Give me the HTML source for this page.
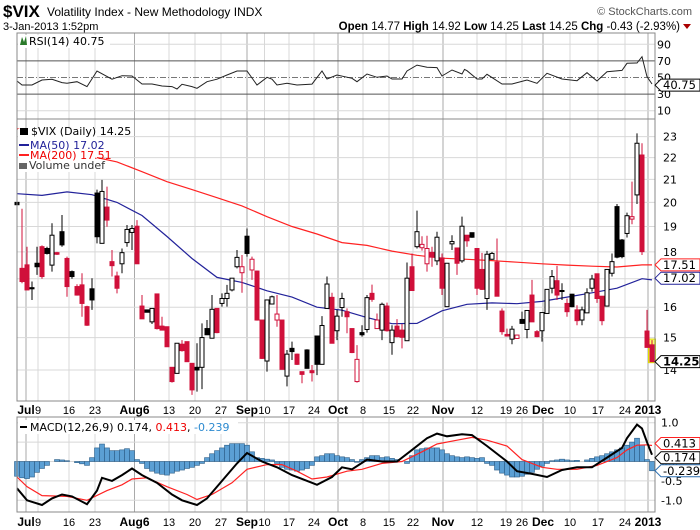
<!DOCTYPE html>
<html><head><meta charset="utf-8"><style>
body{margin:0;background:#fff;}
svg{display:block;font-family:"DejaVu Sans","Liberation Sans",sans-serif;}
</style></head><body>
<svg id="c" width="700" height="530" viewBox="0 0 700 530" xmlns="http://www.w3.org/2000/svg">
<text x="3" y="17" font-family="Liberation Sans, sans-serif" font-size="17" font-weight="bold">$VIX</text>
<text x="47" y="16" font-family="Liberation Sans, sans-serif" font-size="12">Volatility Index - New Methodology  INDX</text>
<text x="692" y="15" text-anchor="end" font-family="Liberation Sans, sans-serif" font-size="11" fill="#555">© StockCharts.com</text>
<text x="3" y="30" font-family="Liberation Sans, sans-serif" font-size="11">3-Jan-2013 1:52pm</text>
<text x="680" y="30" text-anchor="end" font-family="Liberation Sans, sans-serif" font-size="11.5"><tspan font-weight="bold">Open</tspan> 14.77 <tspan font-weight="bold">High</tspan> 14.92 <tspan font-weight="bold">Low</tspan> 14.25 <tspan font-weight="bold">Last</tspan> 14.25 <tspan font-weight="bold">Chg</tspan> -0.43 (-2.93%)</text>
<path d="M683,24 L691,24 L687,29 Z" fill="#a00"/>
<g id="g"></g>
</svg>
<script>
// ---- data ----
const opens=[20.0,17.38,17.51,16.68,17.57,18.20,18.13,17.50,17.97,18.79,17.75,17.26,16.72,16.78,16.02,16.64,20.40,18.33,19.80,17.63,17.10,17.55,18.36,18.76,19.01,16.04,15.91,15.51,16.46,15.37,15.35,14.08,13.90,14.79,14.87,14.20,14.08,14.08,15.29,14.98,15.96,16.13,16.30,16.60,17.44,17.22,18.61,17.32,17.28,15.57,14.27,16.11,15.57,15.57,13.82,14.66,14.48,13.95,14.61,13.98,15.05,14.17,15.96,16.34,15.22,15.99,15.85,15.29,13.66,15.16,15.26,16.48,15.29,15.24,16.04,14.84,15.37,15.24,14.90,17.44,18.20,18.16,17.55,17.98,17.66,17.77,16.02,18.31,18.15,17.66,18.65,18.75,18.13,17.34,16.30,17.72,17.61,15.87,15.10,14.95,14.97,15.59,15.26,16.42,15.19,15.22,15.79,16.66,16.93,16.58,16.13,16.45,15.91,15.57,15.81,16.66,17.18,16.38,16.04,17.20,19.82,18.46,18.72,19.30,20.32,22.12,15.21,14.77];
const highs=[20.32,19.73,18.20,16.90,18.20,18.25,18.20,19.13,18.0,19.47,17.82,17.30,16.80,17.20,16.05,17.02,20.55,20.98,20.68,18.07,17.26,18.13,19.06,19.06,19.26,16.42,15.92,15.96,16.46,15.68,15.35,14.08,14.82,14.92,14.87,14.20,14.82,15.46,15.57,16.42,15.96,16.48,16.78,17.02,18.07,17.88,18.92,17.82,17.30,15.57,16.25,16.40,16.42,15.57,14.61,14.87,14.50,13.95,14.63,14.15,15.05,15.70,17.08,16.50,15.91,16.50,15.96,15.29,14.76,15.40,16.42,16.79,15.79,16.16,16.16,15.40,15.60,15.44,17.60,17.94,19.65,18.61,18.63,18.20,18.79,17.94,17.57,18.65,18.15,19.40,18.65,18.76,18.13,17.96,18.04,18.0,18.52,15.96,15.29,15.38,15.09,15.85,15.89,16.96,15.24,15.82,16.62,17.32,17.47,16.84,16.30,16.46,16.07,16.02,16.66,17.14,17.18,16.38,17.34,17.94,19.93,18.50,19.57,20.90,23.16,22.68,15.91,14.92];
const lows=[19.76,16.84,16.60,16.25,17.14,17.0,17.9,17.26,17.88,18.2,16.36,17.0,16.4,15.68,15.38,15.91,18.33,18.33,18.99,17.08,16.48,17.20,18.20,18.07,17.55,15.61,15.82,15.44,15.26,15.24,14.71,13.63,13.90,14.56,14.25,13.28,13.37,13.44,15.09,14.98,15.14,16.02,16.02,16.55,17.38,16.50,17.82,16.96,15.55,14.33,13.95,16.10,15.35,14.02,13.52,14.30,14.15,13.61,14.04,13.66,13.85,14.17,15.96,14.82,14.92,15.68,15.14,14.51,13.63,15.03,15.16,16.19,15.29,14.92,15.19,14.46,15.01,14.66,14.90,16.58,18.13,18.05,17.26,17.44,17.50,16.42,16.02,18.07,17.14,17.59,18.20,18.55,16.42,16.60,15.91,17.70,16.38,15.09,15.03,14.79,14.96,15.44,14.98,15.51,15.01,14.87,15.79,16.48,16.25,16.25,15.68,16.0,15.40,15.40,15.81,16.54,16.15,15.40,16.04,17.08,17.76,17.76,18.56,19.09,19.93,17.88,14.69,14.25];
const closes=[19.90,16.90,16.60,16.64,17.44,17.08,17.94,18.65,17.91,18.27,16.72,17.08,16.42,16.13,15.40,16.25,18.59,20.47,19.26,17.48,16.66,17.97,18.88,18.92,17.55,15.61,15.83,15.96,15.29,15.24,14.71,13.66,14.82,14.59,14.25,13.42,14.00,15.00,15.09,15.93,15.16,16.30,16.48,17.02,17.79,17.44,17.94,17.72,15.57,14.35,16.25,16.36,15.77,14.02,14.48,14.56,14.17,13.87,14.05,13.92,14.17,15.39,16.81,14.82,15.70,16.30,15.68,14.53,14.32,15.09,16.33,16.27,15.57,16.10,15.22,15.24,15.03,15.01,17.02,16.58,18.79,18.29,18.13,17.80,18.57,16.66,17.57,18.40,17.57,19.01,18.43,18.57,16.66,16.62,17.91,17.94,16.38,15.19,15.05,15.27,15.08,15.46,15.89,15.51,15.03,15.82,16.62,17.08,16.42,16.55,15.85,16.02,15.55,15.91,16.50,16.99,16.30,15.55,17.34,17.63,17.80,17.82,19.44,19.40,22.68,18.01,14.69,14.25];
const maDays=[0,5,10,15,20,25,30,35,40,45,50,55,60,65,70,75,80,85,90,95,100,105,110,115,120,125,127];
const ma50=[20.37,20.30,20.45,20.33,20.0,19.45,18.6,17.75,17.05,16.87,16.57,16.35,16.0,15.9,15.65,15.45,15.46,15.88,16.1,16.15,16.12,16.2,16.35,16.5,16.66,17.0,16.96];
const ma200=[23.4,22.95,22.5,22.05,21.8,21.35,20.9,20.55,20.2,19.85,19.4,19.0,18.7,18.36,18.25,18.03,17.87,17.76,17.72,17.67,17.61,17.55,17.50,17.46,17.43,17.51,17.51];
const priceTicks=[14,15,16,17,18,19,20,21,22,23];
const rsiDays=[0,1,3,5,7,9,10,12,14,16,19,21,23,25,27,29,31,32,33,35,36,38,40,42,44,46,48,50,51,52,54,56,59,61,62,64,67,68,70,72,74,75,77,78,80,82,84,85,87,89,89.5,90,92,93,94,97,99,102,104,106,109,112,114,116,118,121,122,124,125,126,127];
const rsiVals=[45.8,41,41,47,47.8,43.8,43,45,39,57.8,47.9,52.2,51.8,42.2,42.2,39.8,39,36.1,41.8,39,37,45,47.9,53,57.8,57.8,41,50.2,47.9,41,43,41,42,57.8,48.2,53,49,45,54.2,50.2,51.8,48.2,48.2,57.8,65,62.3,61.9,51.8,59,54.2,59.8,58.2,48.2,48.2,53.8,42.2,42.2,47,43,55,48.2,46.2,55.8,45.8,57,58.5,67.1,67.5,75.1,51,42.2,40.75];
const rsiTicks=[90,70,50,30,10];
const macdDays=[0,2,5,7,9,11,14,16,17,19,21,23,25,28,31,33,36,38,41,44,46,49,52,55,59,60,63,65,67,70,73,76,79,82,84,86,89,91,94,98,100,103,106,109,112,115,118,121,122,124,125,126,127];
const macdVals=[-0.69,-1.0,-1.12,-0.95,-0.85,-0.9,-1.1,-0.75,-0.42,-0.5,-0.35,-0.18,-0.35,-0.55,-0.85,-1.0,-1.12,-0.95,-0.5,-0.05,0.22,0.0,-0.15,-0.35,-0.55,-0.6,-0.4,-0.15,-0.2,0.05,0.0,0.0,0.3,0.6,0.72,0.65,0.7,0.68,0.4,0.0,-0.25,-0.32,-0.4,-0.22,-0.15,-0.15,0.1,0.35,0.6,0.95,0.85,0.5,0.174];
const sigDays=[0,2,5,10,14,18,21,23,26,30,34,36,39,43,46,50,53,56,59,62,66,69,73,77,81,84,88,91,94,98,101,105,108,112,116,120,122,124,126,127];
const sigVals=[-0.4,-0.65,-0.88,-0.9,-1.0,-0.75,-0.6,-0.45,-0.42,-0.65,-0.85,-0.98,-0.85,-0.55,-0.2,-0.08,-0.08,-0.25,-0.45,-0.4,-0.25,-0.2,-0.05,0.0,0.25,0.45,0.55,0.62,0.55,0.4,0.05,-0.15,-0.2,-0.2,-0.1,0.1,0.3,0.42,0.43,0.413];
const histVals=[-0.38,-0.42,-0.44,-0.40,-0.28,-0.18,-0.1,0.0,0.05,0.04,0.02,0.0,-0.03,-0.06,-0.1,0.1,0.35,0.45,0.35,0.28,0.28,0.3,0.33,0.28,0.05,-0.05,-0.18,-0.25,-0.3,-0.33,-0.35,-0.3,-0.25,-0.22,-0.18,-0.15,-0.1,-0.05,0.1,0.2,0.28,0.35,0.42,0.46,0.46,0.46,0.42,0.25,0.1,0.08,0.06,0.04,-0.05,-0.15,-0.2,-0.22,-0.25,-0.22,-0.18,-0.1,0.12,0.15,0.2,0.2,0.15,0.12,0.1,0.05,-0.02,0.05,0.1,0.15,0.15,0.1,0.12,0.08,0.05,0.0,-0.05,0.15,0.3,0.33,0.35,0.35,0.35,0.3,0.2,0.15,0.12,0.1,0.12,0.1,0.08,0.1,-0.05,-0.1,-0.22,-0.3,-0.35,-0.4,-0.4,-0.38,-0.33,-0.28,-0.2,-0.12,-0.05,0.02,0.04,0.06,0.04,0.02,0.03,0.0,0.04,0.08,0.12,0.15,0.2,0.25,0.3,0.35,0.42,0.5,0.6,0.42,0.05,-0.239];
const macdTicks=[1.0,0.5,0.0,-0.5,-1.0];
const macdTickLabels=["1.0","0.5","0.0","-0.5","-1.0"];
const dateLabels=["Jul","9","16","23","Aug6","13","20","27","Sep","10","17","24","Oct","8","15","22","Nov","12","19","26","Dec","10","17","24","2013"];
const dateIdx=[1.8,4.2,10.4,15.6,23.5,30.4,35.6,40.8,46,49.5,54.4,59.4,64.2,69.2,74.4,79.2,85.2,92,97.8,101,105.2,110.6,116.2,121.6,126.2];
const monthLabels=["Jul","Aug6","Sep","Oct","Nov","Dec","2013"];

// ---- axes ----
const L=17,R=655;
const X=i=>L+5*i;
const PY=v=>370-470*Math.log(v/14);
const RY=v=>119-0.83*v;
const MY=v=>461.5-38.8*v;
const NS="http://www.w3.org/2000/svg";
const G=document.getElementById('g');
function mk(tag,attrs,parent){const e=document.createElementNS(NS,tag);for(const k in attrs)e.setAttribute(k,attrs[k]);(parent||G).appendChild(e);return e;}
function txt(x,y,s,attrs){const e=mk('text',Object.assign({x:x,y:y,'font-size':11},attrs||{}));e.textContent=s;return e;}

const panels=[[33,119],[119,401],[417,512]];
panels.forEach((p,k)=>{
  const r=mk('rect',{x:L,y:p[0],width:R-L,height:p[1]-p[0],fill:'#fff',stroke:'none'});
  
  
});
[33,119,417].forEach((t,k)=>{
  const b=[119,401,512][k];
  dateIdx.forEach((d,j)=>{
    const isM=monthLabels.includes(dateLabels[j]);
    const l=mk('line',{x1:X(d),x2:X(d),y1:t,y2:b,stroke:isM?'#aaa':'#d8d8d8','stroke-width':1});
    
    
  });
});
rsiTicks.forEach(v=>{
  const y=RY(v);
  const st=(v===70||v===30)?{stroke:'#555'}:(v===50?{stroke:'#777','stroke-dasharray':'6,2,1,2'}:{stroke:'#d8d8d8'});
  const l=mk('line',Object.assign({x1:L,x2:R,y1:y,y2:y},st));
  
  
  const t=txt(657,y+4,String(v),{'font-size':11});
  
  
});
priceTicks.forEach(v=>{
  const y=PY(v);
  const l=mk('line',{x1:L,x2:R,y1:y,y2:y,stroke:'#d8d8d8'});
  
  
  const t=txt(663,y+4,String(v),{'font-size':11});
  
  
});
macdTicks.forEach((v,j)=>{
  const y=MY(v);
  const l=mk('line',{x1:L,x2:R,y1:y,y2:y,stroke:'#d8d8d8'});
  
  
  const t=txt(661,y+4,macdTickLabels[j],{'font-size':11});
  
  
});
[414,526].forEach(yy=>{
  dateIdx.forEach((d,j)=>{
    const isM=monthLabels.includes(dateLabels[j]);
    const t=txt(X(d),yy,dateLabels[j],{'text-anchor':'middle','font-size':isM?12:11,'font-weight':isM?'bold':'normal','font-family':'Liberation Sans, sans-serif'});
    
    
  });
});

let d='';rsiDays.forEach((k,j)=>{d+=(j?'L':'M')+X(k).toFixed(1)+','+RY(rsiVals[j]).toFixed(1);});
let p=mk('path',{d:d,fill:'none',stroke:'#222','stroke-width':1});



function lineOf(days,vals,fy,col,w,name){let s='';days.forEach((k,j)=>{s+=(j?'L':'M')+X(k).toFixed(1)+','+fy(vals[j]).toFixed(1);});const e=mk('path',{d:s,fill:'none',stroke:col,'stroke-width':w});return e;}
lineOf(maDays,ma200,PY,'#f22',1.2,'ma200-line');
lineOf(maDays,ma50,PY,'#22229a',1.2,'ma50-line');

const hl=mk('rect',{x:X(127)-3.5,y:PY(highs[127])-1,width:7,height:PY(lows[127])-PY(highs[127])+2,fill:'#ffff66',stroke:'#dd0'});



closes.forEach((c,i)=>{
  const o=opens[i],h=highs[i],l=lows[i];
  const prev=i?closes[i-1]:c;
  const col=c<prev?'#d0103a':'#000';
  const x=X(i);
  const w=mk('line',{x1:x,x2:x,y1:PY(h),y2:PY(l),stroke:col,'stroke-width':1});
  
  
  const top=PY(Math.max(o,c)),bot=PY(Math.min(o,c));
  const filled=c<o;
  const b=mk('rect',{x:x-2,y:top,width:4,height:Math.max(1,bot-top),fill:filled?col:'#fff',stroke:col,'stroke-width':1});
  
  
});

histVals.forEach((v,i)=>{
  const y0=MY(0),y1=MY(v);
  const r=mk('rect',{x:X(i)-2.5,y:Math.min(y0,y1),width:5,height:Math.abs(y1-y0),fill:'#5b9fd4',stroke:'#2c5d86','stroke-width':0.6});
  
  
});
lineOf(sigDays,sigVals,MY,'#f22',1.2,'macd-signal-line');
lineOf(macdDays,macdVals,MY,'#000',2,'macd-line');

panels.forEach(p2=>{const r=mk('rect',{x:L,y:p2[0],width:R-L,height:p2[1]-p2[0],fill:'none',stroke:'#888'});});

function tag(y,s,col,bold,name){
  const g=mk('g',{});
  
  
  const w=s.length*6.6+6;
  mk('path',{d:`M655,${y} L661,${y-6} L${661+w},${y-6} L${661+w},${y+6} L661,${y+6} Z`,fill:'#fff',stroke:col,'stroke-width':1},g);
  const t=mk('text',{x:663,y:y+4,'font-size':11.5,'font-weight':bold?'bold':'normal',fill:'#000'},g);
  t.textContent=s;
}
tag(RY(40.75),'40.75','#000',false,'rsi-value-tag');
tag(PY(17.51),'17.51','#f22',false,'ma200-value-tag');
tag(PY(17.02),'17.02','#22229a',false,'ma50-value-tag');
tag(PY(14.25),'14.25','#000',true,'price-value-tag');
tag(MY(0.413)-2,'0.413','#f22',false,'signal-value-tag');
tag(MY(0.174)+3,'0.174','#000',false,'macd-value-tag');
tag(MY(-0.239),'-0.239','#2c6fb0',false,'histogram-value-tag');

// legend backgrounds
let bg=mk('rect',{x:18,y:129,width:79,height:43,fill:'#fff'});


bg=mk('rect',{x:18,y:35,width:92,height:13,fill:'#fff'});


bg=mk('rect',{x:18,y:420,width:220,height:14,fill:'#fff'});



mk('path',{d:'M20,45 L22,37 L24,42 L26,36 L27,45 Z',fill:'#2a7a2a'});
let t=txt(29,45,'RSI(14) 40.75',{'font-size':11});


t=txt(31,135,'$VIX (Daily) 14.25',{'font-size':11});


mk('rect',{x:20,y:128,width:8,height:7,fill:'#000'});
mk('line',{x1:19,x2:29,y1:145,y2:145,stroke:'#22229a','stroke-width':2});
t=txt(30,149,'MA(50) 17.02',{'font-size':11,fill:'#22229a'});


mk('line',{x1:19,x2:29,y1:155,y2:155,stroke:'#f22','stroke-width':2});
t=txt(30,159,'MA(200) 17.51',{'font-size':11,fill:'#e00'});


mk('rect',{x:19,y:163,width:8,height:6,fill:'#666'});
t=txt(29,169,'Volume undef',{'font-size':11,fill:'#333'});


mk('line',{x1:20,x2:27,y1:427,y2:427,stroke:'#000','stroke-width':2});
t=mk('text',{x:30,y:431,'font-size':11});


t.innerHTML='MACD(12,26,9) 0.174, <tspan fill="#e00">0.413</tspan>, <tspan fill="#2c8ad0">-0.239</tspan>';
</script>
</body></html>
